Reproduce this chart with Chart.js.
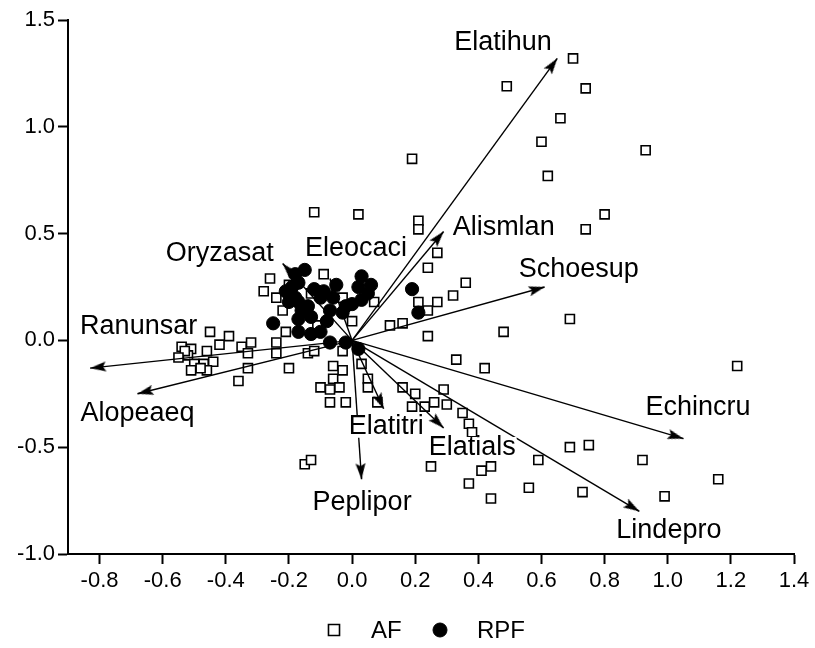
<!DOCTYPE html>
<html><head><meta charset="utf-8">
<script src="https://cdn.jsdelivr.net/npm/chart.js@4.4.1/dist/chart.umd.min.js"></script>
<style>html,body{margin:0;padding:0;background:#fff;}canvas{display:block;}</style>
</head><body>
<canvas id="c" width="815" height="648"></canvas>
<script>
// ---- data ----
const xTickValues = [-0.8, -0.6, -0.4, -0.2, 0.0, 0.2, 0.4, 0.6, 0.8, 1.0, 1.2, 1.4];
const yTickValues = [-1.0, -0.5, 0.0, 0.5, 1.0, 1.5];
const seriesNames = ['AF', 'RPF'];

const afX = [0.70,0.74,0.49,0.66,0.93,0.60,0.62,0.19,0.80,0.74,0.02,-0.12,0.21,0.21,0.27,0.24,0.36,0.32,0.27,0.24,0.21,0.12,0.16,0.24,0.48,0.69,0.33,0.42,1.22,0.29,0.26,0.30,0.23,0.35,0.37,0.38,0.69,0.75,0.59,0.92,0.25,0.44,0.41,0.37,0.44,0.56,0.73,0.99,1.16,-0.15,-0.13,0.07,0.00,-0.03,-0.06,-0.03,0.03,-0.06,0.05,-0.07,-0.04,0.05,-0.07,-0.02,0.16,0.20,0.08,0.19,-0.10,-0.26,-0.28,-0.24,-0.20,-0.09,-0.13,-0.03,-0.22,-0.11,-0.21,-0.24,-0.32,-0.24,-0.14,-0.12,-0.45,-0.39,-0.42,-0.35,-0.33,-0.54,-0.51,-0.46,-0.52,-0.50,-0.47,-0.44,-0.46,-0.48,-0.53,-0.55,-0.51,-0.33,-0.36,-0.20];
const afY = [1.32,1.18,1.19,1.04,0.89,0.93,0.77,0.85,0.59,0.52,0.59,0.60,0.56,0.52,0.41,0.34,0.27,0.21,0.18,0.14,0.18,0.07,0.08,0.02,0.04,0.10,-0.09,-0.13,-0.12,-0.23,-0.29,-0.30,-0.31,-0.34,-0.39,-0.43,-0.50,-0.49,-0.56,-0.56,-0.59,-0.59,-0.61,-0.67,-0.74,-0.69,-0.71,-0.73,-0.65,-0.58,-0.56,0.18,0.09,-0.05,-0.12,-0.14,-0.11,-0.18,-0.18,-0.23,-0.22,-0.22,-0.29,-0.29,-0.22,-0.25,-0.29,-0.31,-0.22,0.29,0.23,0.20,0.26,0.31,0.22,0.20,0.14,0.07,0.04,-0.01,-0.01,-0.06,-0.06,-0.05,0.04,0.02,-0.02,-0.03,-0.06,-0.03,-0.04,-0.05,-0.07,-0.11,-0.11,-0.10,-0.14,-0.13,-0.05,-0.08,-0.14,-0.13,-0.19,-0.13];

const rpfX = [-0.15,-0.18,-0.17,-0.19,-0.21,-0.20,-0.17,-0.18,-0.13,-0.17,-0.25,-0.17,-0.13,-0.10,-0.07,-0.02,0.02,-0.09,-0.10,-0.05,-0.06,-0.07,-0.02,0.00,-0.03,0.03,0.06,0.02,0.03,0.19,0.21,-0.14,-0.12,-0.16,0.05,-0.20,-0.08];
const rpfY = [0.33,0.31,0.27,0.25,0.23,0.18,0.18,0.20,0.11,0.10,0.08,0.04,0.03,0.04,-0.01,-0.01,-0.04,0.23,0.20,0.26,0.20,0.14,0.16,0.17,0.13,0.30,0.26,0.25,0.19,0.24,0.13,0.16,0.24,0.14,0.22,0.22,0.09];

const speciesNames = ['Elatihun','Alismlan','Schoesup','Echincru','Lindepro','Elatials','Elatitri','Peplipor','Oryzasat','Eleocaci','Ranunsar','Alopeaeq'];
const speciesX = [0.65, 0.29, 0.61, 1.05, 0.91, 0.29, 0.10, 0.03, -0.22, -0.07, -0.83, -0.68];
const speciesY = [1.32, 0.51, 0.25, -0.46, -0.80, -0.41, -0.32, -0.65, 0.36, 0.29, -0.13, -0.25];

// label placement (pixel offset of text left / middle from arrow tip)
const labelOffsets = [[-103,-16],[9,-4],[-26,-17],[-38,-31],[-23,19],[-15,20],[-35,18],[-49,23],[-117,-10],[-25,-30],[-10,-42],[-57,20]];

// ---- arrowhead point style ----
const arrowHead = document.createElement('canvas');
arrowHead.width = 44; arrowHead.height = 44;
(function(){
  const g = arrowHead.getContext('2d');
  g.fillStyle = '#000';
  g.beginPath();
  g.moveTo(22, 22);
  g.lineTo(27, 38);
  g.lineTo(22, 35);
  g.lineTo(17, 38);
  g.closePath();
  g.fill();
})();

const FONT = "'Liberation Sans', Arial, sans-serif";

const datasets = [
  {
    label: seriesNames[0],
    data: afX.map((x, i) => ({x: x, y: afY[i]})),
    pointStyle: 'rect', pointRadius: 6.4,
    pointBackgroundColor: '#fff', pointBorderColor: '#000', pointBorderWidth: 1.6,
    backgroundColor: '#fff', borderColor: '#000', borderWidth: 1.6,
    showLine: false, order: 3
  },
  {
    label: seriesNames[1],
    data: rpfX.map((x, i) => ({x: x, y: rpfY[i]})),
    pointStyle: 'circle', pointRadius: 6.6,
    pointBackgroundColor: '#000', pointBorderColor: '#000', pointBorderWidth: 1,
    backgroundColor: '#000', borderColor: '#000', borderWidth: 1,
    showLine: false, order: 2
  }
];

speciesNames.forEach((name, i) => {
  datasets.push({
    label: name,
    data: [{x: 0, y: 0}, {x: speciesX[i], y: speciesY[i]}],
    showLine: true,
    borderColor: '#000', borderWidth: 1.4,
    pointRadius: [0, 3],
    pointStyle: arrowHead,
    pointRotation: (ctx) => {
      const ch = ctx.chart, d = ctx.dataset.data[1];
      const dx = ch.scales.x.getPixelForValue(d.x) - ch.scales.x.getPixelForValue(0);
      const dy = ch.scales.y.getPixelForValue(d.y) - ch.scales.y.getPixelForValue(0);
      return Math.atan2(dx, -dy) * 180 / Math.PI;
    },
    order: 1,
    clip: false
  });
});

const speciesLabels = {
  id: 'speciesLabels',
  afterDatasetsDraw(chart) {
    const {ctx, scales} = chart;
    ctx.save();
    ctx.font = '27px ' + FONT;
    ctx.textBaseline = 'middle';
    ctx.textAlign = 'left';
    speciesNames.forEach((name, i) => {
      const px = scales.x.getPixelForValue(speciesX[i]) + labelOffsets[i][0];
      const py = scales.y.getPixelForValue(speciesY[i]) + labelOffsets[i][1];
      const w = ctx.measureText(name).width;
      ctx.fillStyle = '#fff';
      ctx.fillRect(px - 1, py - 11, w + 2, 22);
      ctx.fillStyle = '#000';
      ctx.fillText(name, px, py);
    });
    ctx.restore();
  }
};

// legend drawn below the axis, markers via Chart.js point drawing
const bottomLegend = {
  id: 'bottomLegend',
  afterDraw(chart) {
    const {ctx} = chart;
    const items = [
      {ds: chart.data.datasets[0], mx: 334, tx: 371, r: 7.8},
      {ds: chart.data.datasets[1], mx: 440, tx: 477, r: 7}
    ];
    const y = 630;
    ctx.save();
    items.forEach(it => {
      ctx.fillStyle = it.ds.pointBackgroundColor;
      ctx.strokeStyle = it.ds.pointBorderColor;
      ctx.lineWidth = it.ds.pointBorderWidth;
      Chart.helpers.drawPoint(ctx, {pointStyle: it.ds.pointStyle, radius: it.r, rotation: 0, borderWidth: it.ds.pointBorderWidth}, it.mx, y);
      ctx.fillStyle = '#000';
      ctx.font = '24px ' + FONT;
      ctx.textBaseline = 'middle';
      ctx.textAlign = 'left';
      ctx.fillText(it.ds.label, it.tx, y + 1);
    });
    ctx.restore();
  }
};

const CHART_BOTTOM = 554;
const CHART_LEFT = 68;

new Chart(document.getElementById('c'), {
  type: 'scatter',
  data: {datasets},
  options: {
    responsive: false,
    animation: false,
    devicePixelRatio: 1,
    events: [],
    layout: {padding: {top: 20, right: 21, left: 0, bottom: 0}},
    plugins: {
      tooltip: {enabled: false},
      legend: {display: false}
    },
    scales: {
      x: {
        type: 'linear', min: -0.9, max: 1.4,
        afterBuildTicks: (s) => { s.ticks = xTickValues.map(v => ({value: v})); },
        afterFit: (s) => { s.height = s.chart.height - CHART_BOTTOM; },
        grid: {drawOnChartArea: false, drawTicks: true, tickLength: 10, tickWidth: 2, tickColor: '#000'},
        border: {display: true, color: '#000', width: 2},
        ticks: {color: '#000', font: {family: FONT, size: 22}, padding: 4, maxRotation: 0, autoSkip: false,
                callback: (v) => Number(v).toFixed(1)}
      },
      y: {
        type: 'linear', min: -1.0, max: 1.5,
        afterBuildTicks: (s) => { s.ticks = yTickValues.map(v => ({value: v})); },
        afterFit: (s) => { s.width = CHART_LEFT; },
        grid: {drawOnChartArea: false, drawTicks: true, tickLength: 10, tickWidth: 2, tickColor: '#000'},
        border: {display: true, color: '#000', width: 2},
        ticks: {color: '#000', font: {family: FONT, size: 22}, padding: 3, autoSkip: false,
                callback: (v) => Number(v).toFixed(1)}
      }
    }
  },
  plugins: [speciesLabels, bottomLegend]
});
</script>
</body></html>
